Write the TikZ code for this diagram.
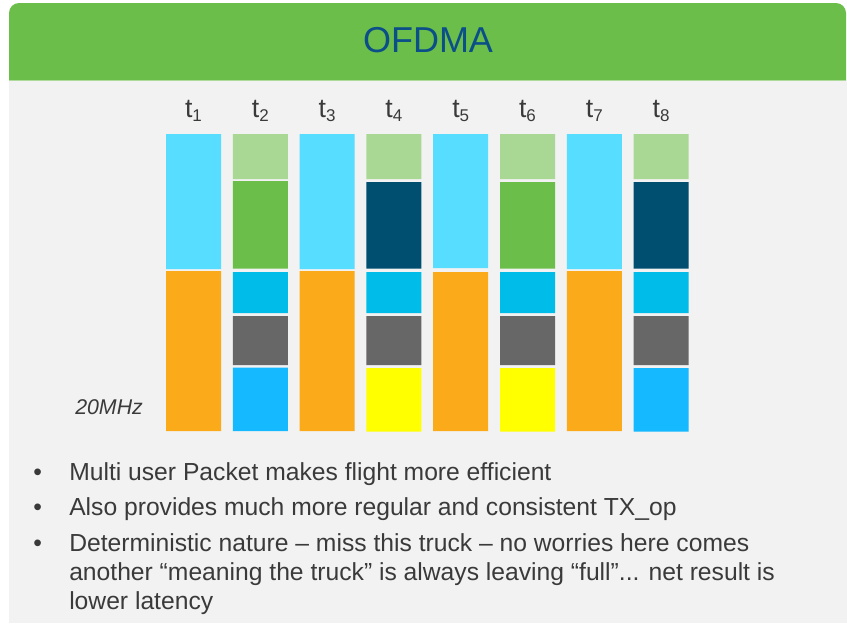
\documentclass[tikz,border=0pt]{standalone}
\usepackage{fontspec}
\setmainfont{Liberation Sans}
\usepackage{tikz}
\definecolor{panelgray}{HTML}{F2F2F2}
\definecolor{hdrgreen}{HTML}{6CBE4A}
\definecolor{titleblue}{HTML}{0B4F88}
\definecolor{txtgray}{HTML}{3A3A3A}
\definecolor{ltcyan}{HTML}{57DDFF}
\definecolor{amber}{HTML}{FBAB19}
\definecolor{ltgreen}{HTML}{A9D894}
\definecolor{midgreen}{HTML}{6CBE4A}
\definecolor{navy}{HTML}{004F71}
\definecolor{cyanblk}{HTML}{00BCE8}
\definecolor{slate}{HTML}{676767}
\definecolor{sky}{HTML}{14B9FF}
\definecolor{brightyellow}{HTML}{FFFF00}
\newcommand{\tlab}[1]{t\raisebox{-3pt}{\fontsize{12.75}{14}\selectfont #1}}

\begin{document}
\begin{tikzpicture}[x=0.75pt, y=-0.75pt,
    lbl/.style={anchor=base, inner sep=0pt, text=txtgray, font=\fontsize{20}{24}\selectfont},
    bul/.style={anchor=base west, inner sep=0pt, text=txtgray, font=\fontsize{18.5}{22}\selectfont}]
            \useasboundingbox (0,0) rectangle (847,625);

            \fill[panelgray] (9,80) rectangle (847,623);
            \fill[hdrgreen] (9,80) [rounded corners=7.5pt] -- (9,3) -- (846,3) [sharp corners] -- (846,80) -- cycle;
            \draw[hdrgreen!55, line width=0.75pt] (9,80.5) -- (846,80.5);
            \node[anchor=base, inner sep=0pt, text=titleblue, font=\fontsize{27}{32}\selectfont] (title) at (428,52) {OFDMA};

            \node[lbl] (t1) at (193.5,117) {\tlab{1}};
            \node[lbl] (t2) at (260.3,117) {\tlab{2}};
            \node[lbl] (t3) at (327.1,117) {\tlab{3}};
            \node[lbl] (t4) at (393.9,117) {\tlab{4}};
            \node[lbl] (t5) at (460.7,117) {\tlab{5}};
            \node[lbl] (t6) at (527.5,117) {\tlab{6}};
            \node[lbl] (t7) at (594.3,117) {\tlab{7}};
            \node[lbl] (t8) at (661.1,117) {\tlab{8}};

            \fill[ltcyan] (166,134) rectangle (221,269) (299.6,134) rectangle (354.6,269)
                (433.2,134) rectangle (488.2,268) (566.8,134) rectangle (621.8,269);
            \fill[amber] (166,271) rectangle (221,431) (299.6,271) rectangle (354.6,431)
                (433.2,272) rectangle (488.2,431) (566.8,271) rectangle (621.8,431);

            \fill[ltgreen] (232.8,134) rectangle (287.8,179) (366.4,134) rectangle (421.4,179)
                (500,134) rectangle (555,179) (633.6,134) rectangle (688.6,179);
            \fill[midgreen] (232.8,181) rectangle (287.8,268.5) (500,182) rectangle (555,268.5);
            \fill[navy] (366.4,182) rectangle (421.4,268.5) (633.6,182) rectangle (688.6,268.5);
            \fill[cyanblk] (232.8,272) rectangle (287.8,313) (366.4,272) rectangle (421.4,313)
                (500,272) rectangle (555,313) (633.6,272) rectangle (688.6,313);
            \fill[slate] (232.8,316) rectangle (287.8,365) (366.4,316) rectangle (421.4,365)
                (500,316) rectangle (555,365) (633.6,316) rectangle (688.6,365);
            \fill[sky] (232.8,367.5) rectangle (287.8,431) (633.6,368) rectangle (688.6,431.5);
            \fill[brightyellow] (366.4,368) rectangle (421.4,431.5) (500,368) rectangle (555,431.5);

            \node[anchor=base west, inner sep=0pt, text=txtgray, font=\fontsize{16}{19}\selectfont\itshape] (bw) at (75,414) {20MHz};

            \node[bul] (d1) at (33,480) {•};
            \node[bul] (b1) at (69,480) {Multi user Packet makes flight more efficient};
            \node[bul] (d2) at (33,515) {•};
            \node[bul] (b2) at (69,515) {Also provides much more regular and consistent TX\_op};
            \node[bul] (d3) at (33,551) {•};
            \node[bul] (b3a) at (69,551) {Deterministic nature – miss this truck – no worries here comes};
            \node[bul] (b3b) at (69,580) {another “meaning the truck” is always leaving “full”... net result is};
            \node[bul] (b3c) at (69,609) {lower latency};
        \end{tikzpicture}
\end{document}
